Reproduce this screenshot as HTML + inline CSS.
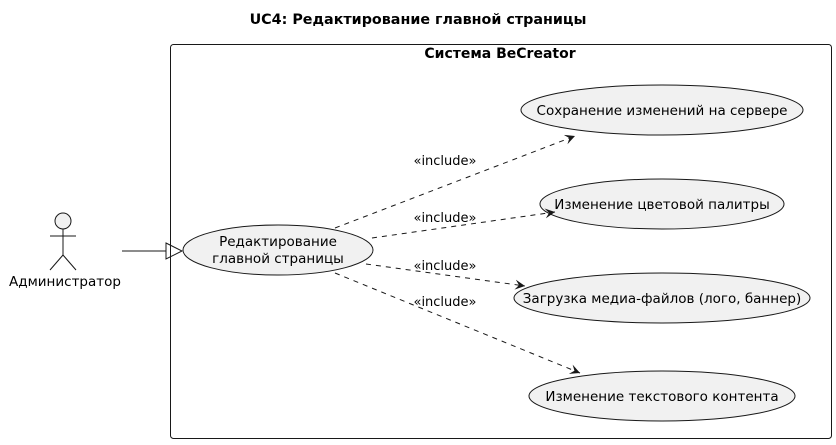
<!DOCTYPE html>
<html><head><meta charset="utf-8"><style>
html,body{margin:0;padding:0;background:#fff;width:836px;height:445px;overflow:hidden}
svg{display:block}
text{font-family:"DejaVu Sans","Liberation Sans",sans-serif;fill:#000}
</style></head><body>
<svg width="836" height="445" viewBox="0 0 836 445" xmlns="http://www.w3.org/2000/svg">
<defs>
<marker id="ah" markerWidth="12" markerHeight="12" refX="10" refY="5" orient="auto" markerUnits="userSpaceOnUse">
<path d="M0,0 L10,5 L0,10 L4,5 Z" fill="#181818"/>
</marker>
</defs>
<text x="418" y="24" text-anchor="middle" font-size="14.3" font-weight="bold">UC4: Редактирование главной страницы</text>
<rect x="170.5" y="44.5" width="661" height="394" rx="3" fill="none" stroke="#181818"/>
<text x="500" y="58" text-anchor="middle" font-size="14" font-weight="bold">Система BeCreator</text>
<circle cx="63" cy="221" r="8" fill="#f1f1f1" stroke="#181818"/>
<line x1="63" y1="229" x2="63" y2="255" stroke="#181818"/>
<line x1="50" y1="236" x2="76" y2="236" stroke="#181818"/>
<line x1="63" y1="255" x2="50" y2="270" stroke="#181818"/>
<line x1="63" y1="255" x2="76" y2="270" stroke="#181818"/>
<text x="65" y="286" text-anchor="middle" font-size="13.5">Администратор</text>
<line x1="122" y1="251" x2="166" y2="251" stroke="#181818"/>
<path d="M166,243 L182,251 L166,259 Z" fill="none" stroke="#181818"/>
<ellipse cx="278" cy="250" rx="95" ry="25" fill="#f1f1f1" stroke="#181818"/>
<text x="278" y="246" text-anchor="middle" font-size="13.5">Редактирование</text>
<text x="278" y="263" text-anchor="middle" font-size="13.5">главной страницы</text>
<ellipse cx="662" cy="110" rx="141" ry="25" fill="#f1f1f1" stroke="#181818"/>
<text x="662" y="115" text-anchor="middle" font-size="13.5">Сохранение изменений на сервере</text>
<ellipse cx="662" cy="204" rx="122" ry="25" fill="#f1f1f1" stroke="#181818"/>
<text x="662" y="209" text-anchor="middle" font-size="13.5">Изменение цветовой палитры</text>
<ellipse cx="662" cy="298" rx="148" ry="25" fill="#f1f1f1" stroke="#181818"/>
<text x="662" y="303" text-anchor="middle" font-size="13.5">Загрузка медиа-файлов (лого, баннер)</text>
<ellipse cx="662" cy="396" rx="133" ry="25" fill="#f1f1f1" stroke="#181818"/>
<text x="662" y="401" text-anchor="middle" font-size="13.5">Изменение текстового контента</text>
<g stroke="#181818" stroke-dasharray="5,5" fill="none" marker-end="url(#ah)">
<line x1="335" y1="228" x2="575" y2="136"/>
<line x1="372" y1="238" x2="555" y2="212"/>
<line x1="366" y1="264" x2="525" y2="286"/>
<line x1="335" y1="273" x2="580" y2="373"/>
</g>
<text x="445" y="165" text-anchor="middle" font-size="13">«include»</text>
<text x="445" y="222" text-anchor="middle" font-size="13">«include»</text>
<text x="445" y="270" text-anchor="middle" font-size="13">«include»</text>
<text x="445" y="306" text-anchor="middle" font-size="13">«include»</text>
</svg>
</body></html>
